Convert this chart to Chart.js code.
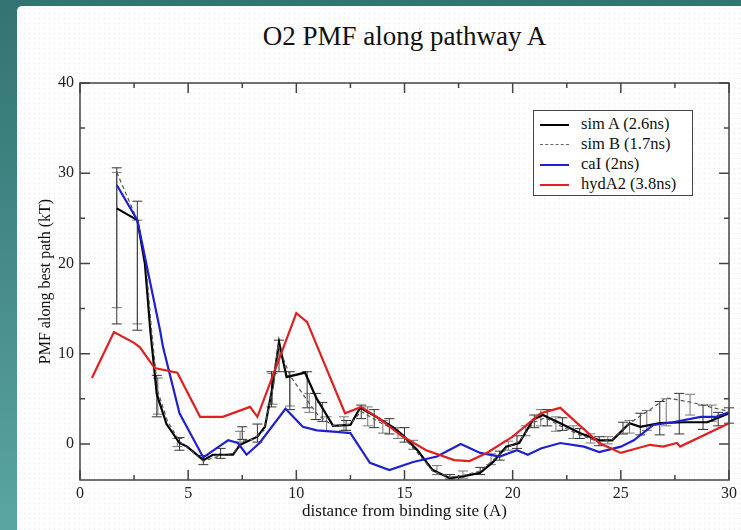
<!DOCTYPE html>
<html>
<head>
<meta charset="utf-8">
<script src="https://cdn.jsdelivr.net/npm/chart.js@4.4.0/dist/chart.umd.min.js"></script>
<style>
html,body{margin:0;padding:0;}
body{width:741px;height:530px;position:relative;overflow:hidden;background:linear-gradient(180deg,#327472 0%,#4a908e 60%,#5aa5a2 100%);}
#panel{position:absolute;left:17px;top:6px;right:0;bottom:0;background-color:#fff;border-top-left-radius:5px;
background-image:radial-gradient(circle,#ececec 0.7px,transparent 1.1px);background-size:5px 5px;}
#title{position:absolute;top:21px;left:80px;width:649px;text-align:center;font-family:"Liberation Serif",serif;font-size:27px;color:#111;white-space:nowrap;}
canvas{position:absolute;left:0;top:0;}
#legend{position:absolute;left:533px;top:110px;width:160px;height:86px;border:1px solid #444;background:#fff;box-sizing:border-box;padding-top:3px;}
.row{position:relative;height:20px;font-family:"Liberation Serif",serif;font-size:16.5px;color:#111;line-height:20px;}
.row span.s{position:absolute;left:6px;top:10px;width:29px;height:0;}
.row span.t{position:absolute;left:47px;top:0;white-space:nowrap;}
</style>
</head>
<body>
<div id="panel"></div>
<div id="title">O2 PMF along pathway A</div>
<canvas id="c" width="741" height="530"></canvas>
<div id="legend">
  <div class="row"><span class="s" style="border-top:2px solid #000"></span><span class="t">sim A (2.6ns)</span></div>
  <div class="row"><span class="s" style="border-top:1.5px dashed #666"></span><span class="t">sim B (1.7ns)</span></div>
  <div class="row"><span class="s" style="border-top:2px solid #2020d0"></span><span class="t">caI (2ns)</span></div>
  <div class="row"><span class="s" style="border-top:2px solid #e02020"></span><span class="t">hydA2 (3.8ns)</span></div>
</div>
<script>
// ---- tick labels ----
const xTicks = [0, 5, 10, 15, 20, 25, 30];
const yTicks = [0, 10, 20, 30, 40];
const xMinorTicks = [2.5, 7.5, 12.5, 17.5, 22.5, 27.5];
const yMinorTicks = [5, 15, 25, 35];

// ---- sim A (2.6ns) ----
const simAX = [1.7, 2.65, 3.0, 3.25, 3.55, 4.0, 4.6, 4.95, 5.7, 6.15, 7.07, 7.4, 8.2, 8.55, 8.9, 9.2, 9.55, 10.4, 10.9, 11.7, 12.5, 12.95, 13.7, 14.5, 14.9, 15.6, 16.3, 17.1, 17.7, 18.5, 19.1, 19.7, 20.3, 20.95, 21.4, 22.2, 23.1, 24.0, 24.6, 25.4, 25.9, 26.8, 27.9, 29.0, 30.0];
const simAY = [26.1, 24.8, 20.0, 12.6, 5.5, 2.2, 0.1, -0.3, -1.8, -1.2, -1.2, -0.1, 0.8, 1.9, 6.3, 11.3, 7.4, 7.9, 5.2, 2.0, 2.1, 4.0, 3.0, 1.8, 1.0, -0.7, -2.9, -3.8, -3.6, -3.2, -2.0, -0.3, 0.1, 2.7, 3.2, 2.3, 1.2, 0.4, 0.4, 2.3, 1.9, 2.3, 2.4, 2.4, 3.4];
const simAErrX  = [1.7, 2.65, 3.55, 4.6, 5.7, 6.5, 7.5, 8.2, 8.85, 9.2, 9.7, 10.5, 10.9, 11.2, 12.3, 13.0, 13.6, 14.3, 15.0, 17.1, 18.5, 19.4, 20.2, 21.0, 21.6, 22.3, 23.1, 24.0, 25.1, 25.9, 26.8, 27.7, 28.8, 29.5, 30.0];
const simAErrLo = [13.3, 12.6, 3.0, -0.7, -2.3, -1.6, 0.5, 0.2, 4.1, 8.0, 3.8, 4.0, 2.7, 2.5, 1.5, 2.8, 1.8, 1.1, 0.2, -3.9, -3.4, -1.8, -0.5, 1.8, 2.0, 1.5, 0.6, -0.2, 1.1, 1.0, 1.0, 1.1, 1.6, 2.0, 2.3];
const simAErrHi = [30.6, 26.9, 7.6, 0.7, -1.3, -0.5, 1.9, 2.2, 8.0, 11.5, 8.0, 8.0, 5.6, 4.6, 2.6, 4.3, 3.8, 2.8, 1.8, -3.4, -2.6, -0.8, 0.9, 3.2, 3.8, 2.9, 1.7, 0.8, 2.4, 3.4, 4.7, 5.6, 4.3, 3.5, 4.0];

// ---- sim B (1.7ns) ----
const simBX = [1.7, 2.65, 3.05, 3.3, 3.6, 4.05, 4.6, 5.0, 5.7, 6.5, 7.1, 7.5, 8.0, 8.5, 8.95, 9.15, 9.7, 10.6, 11.0, 11.7, 12.5, 13.0, 13.7, 14.5, 15.0, 15.6, 16.3, 17.1, 17.7, 18.5, 19.1, 19.7, 20.3, 21.0, 21.5, 22.2, 23.1, 24.0, 24.6, 25.4, 26.35, 27.1, 28.3, 29.1, 30.0];
const simBY = [30.1, 24.8, 20.0, 12.8, 5.8, 2.5, 0.3, -0.5, -1.9, -1.3, -1.0, 0.3, 0.5, 1.5, 6.5, 11.0, 7.6, 4.5, 3.2, 2.0, 2.2, 3.6, 2.6, 1.6, 0.6, -1.0, -3.0, -3.7, -3.5, -3.0, -1.8, -0.5, 0.3, 2.4, 2.9, 2.0, 1.0, 0.2, 0.5, 2.3, 3.8, 5.1, 4.6, 4.1, 3.6];
const simBErrX  = [1.7, 2.65, 3.6, 4.5, 7.4, 8.9, 9.7, 10.6, 11.4, 12.2, 13.3, 14.0, 14.7, 15.4, 16.5, 17.7, 19.0, 19.8, 20.6, 21.3, 22.0, 22.8, 23.6, 24.4, 25.4, 26.2, 27.1, 28.2, 29.2];
const simBErrLo = [15.1, 13.3, 3.3, -0.3, 0.2, 4.4, 4.2, 3.5, 1.4, 1.5, 2.0, 1.2, 0.6, -0.6, -3.4, -3.8, -2.3, -0.7, 0.9, 2.0, 1.4, 0.6, 0.1, 0.0, 1.2, 1.5, 2.0, 3.2, 2.5];
const simBErrHi = [30.1, 24.8, 7.3, 0.6, 1.4, 7.8, 7.6, 5.6, 3.0, 3.0, 4.1, 2.6, 1.8, 0.4, -2.4, -3.0, -1.1, 0.3, 2.0, 3.8, 3.0, 2.0, 1.1, 0.8, 2.6, 3.7, 5.0, 5.5, 4.3];

// ---- caI (2ns) ----
const calX = [1.7, 2.65, 3.7, 3.84, 4.6, 5.7, 6.3, 6.85, 7.3, 7.7, 8.3, 9.5, 10.3, 10.95, 12.0, 12.5, 13.4, 14.3, 15.4, 16.5, 17.6, 18.5, 19.4, 20.2, 20.7, 21.3, 22.2, 23.3, 24.0, 25.0, 25.6, 26.5, 27.4, 28.7, 29.4, 30.0];
const calY = [28.7, 24.8, 12.6, 10.7, 3.4, -1.5, -0.5, 0.4, 0.1, -1.2, 0.1, 3.9, 1.9, 1.5, 1.3, 1.2, -2.1, -2.9, -2.0, -1.4, 0.0, -1.0, -1.4, -0.7, -1.2, -0.5, 0.1, -0.3, -0.9, -0.3, 0.4, 2.1, 2.4, 3.0, 3.0, 3.5];

// ---- hydA2 (3.8ns) ----
const hydX = [0.55, 1.57, 2.5, 2.77, 3.45, 4.5, 5.55, 6.6, 7.86, 8.2, 10.0, 10.5, 12.25, 13.0, 13.9, 14.8, 16.0, 17.3, 18.0, 18.8, 20.0, 21.3, 22.2, 24.0, 25.0, 26.35, 26.95, 27.6, 27.74, 30.0];
const hydY = [7.3, 12.4, 11.2, 10.7, 8.4, 7.9, 3.0, 3.0, 4.1, 3.0, 14.5, 13.5, 3.4, 4.1, 2.7, 1.0, -0.7, -1.8, -1.9, -1.0, 0.8, 3.4, 4.0, 0.1, -1.0, -0.1, -0.3, 0.1, -0.3, 2.3];

const pts = (xs, ys) => xs.map((x, i) => ({ x: x, y: ys[i] }));

const errPlugin = {
  id: 'errbars',
  beforeDatasetsDraw(chart) {
    const { ctx, scales: { x, y } } = chart;
    const draw = (xs, lo, hi, color) => {
      ctx.save();
      ctx.strokeStyle = color; ctx.lineWidth = 1;
      ctx.beginPath();
      xs.forEach((xv, i) => {
        const px = x.getPixelForValue(xv);
        const p1 = y.getPixelForValue(lo[i]), p2 = y.getPixelForValue(hi[i]);
        ctx.moveTo(px, p1); ctx.lineTo(px, p2);
        ctx.moveTo(px - 5, p1); ctx.lineTo(px + 5, p1);
        ctx.moveTo(px - 5, p2); ctx.lineTo(px + 5, p2);
      });
      ctx.stroke();
      ctx.restore();
    };
    draw(simBErrX, simBErrLo, simBErrHi, '#777');
    draw(simAErrX, simAErrLo, simAErrHi, '#333');
  }
};

const framePlugin = {
  id: 'frame',
  afterDraw(chart) {
    const { ctx, chartArea: a, scales: { x, y } } = chart;
    ctx.save();
    ctx.strokeStyle = '#444'; ctx.lineWidth = 1.5;
    ctx.strokeRect(a.left, a.top, a.right - a.left, a.bottom - a.top);
    ctx.beginPath();
    const xt = (v, len) => { const p = x.getPixelForValue(v); ctx.moveTo(p, a.bottom); ctx.lineTo(p, a.bottom - len); ctx.moveTo(p, a.top); ctx.lineTo(p, a.top + len); };
    const yt = (v, len) => { const p = y.getPixelForValue(v); ctx.moveTo(a.left, p); ctx.lineTo(a.left + len, p); ctx.moveTo(a.right, p); ctx.lineTo(a.right - len, p); };
    xTicks.forEach(v => xt(v, 10));
    xMinorTicks.forEach(v => xt(v, 5));
    yTicks.forEach(v => yt(v, 10));
    yMinorTicks.forEach(v => yt(v, 5));
    ctx.stroke();
    ctx.restore();
  }
};

const font = { family: '"Liberation Serif", serif', size: 16 };

new Chart(document.getElementById('c'), {
  type: 'scatter',
  data: {
    datasets: [
      { label: 'hydA2 (3.8ns)', data: pts(hydX, hydY), borderColor: '#e02020', borderWidth: 2.2 },
      { label: 'caI (2ns)', data: pts(calX, calY), borderColor: '#2020d0', borderWidth: 2.2 },
      { label: 'sim B (1.7ns)', data: pts(simBX, simBY), borderColor: '#555', borderWidth: 1.2, borderDash: [4, 3] },
      { label: 'sim A (2.6ns)', data: pts(simAX, simAY), borderColor: '#000', borderWidth: 2.2 }
    ].map(d => Object.assign(d, { showLine: true, pointRadius: 0, tension: 0, fill: false }))
  },
  options: {
    responsive: false,
    animation: false,
    devicePixelRatio: 1,
    layout: { padding: { left: 32, right: 12, top: 83, bottom: 4 } },
    plugins: { legend: { display: false }, title: { display: false }, tooltip: { enabled: false } },
    scales: {
      x: {
        type: 'linear', min: 0, max: 30,
        grid: { display: false, drawTicks: false, tickLength: 0 }, border: { display: false },
        afterBuildTicks: s => { s.ticks = xTicks.map(v => ({ value: v })); },
        afterFit: s => { s.height = 46; },
        ticks: { font: font, color: '#222', padding: 4, maxRotation: 0 },
        title: { display: true, text: 'distance from binding site (A)', font: { family: '"Liberation Serif", serif', size: 17 }, color: '#111', padding: { top: 2, bottom: 4 } }
      },
      y: {
        type: 'linear', min: -4, max: 40,
        grid: { display: false, drawTicks: false, tickLength: 0 }, border: { display: false },
        afterBuildTicks: s => { s.ticks = yTicks.map(v => ({ value: v })); },
        afterFit: s => { s.width = 48; },
        ticks: { font: font, color: '#222', padding: 6 },
        title: { display: true, text: 'PMF along best path (kT)', font: { family: '"Liberation Serif", serif', size: 16 }, color: '#111', padding: { top: 4, bottom: 4 } }
      }
    }
  },
  plugins: [errPlugin, framePlugin]
});
</script>
</body>
</html>
